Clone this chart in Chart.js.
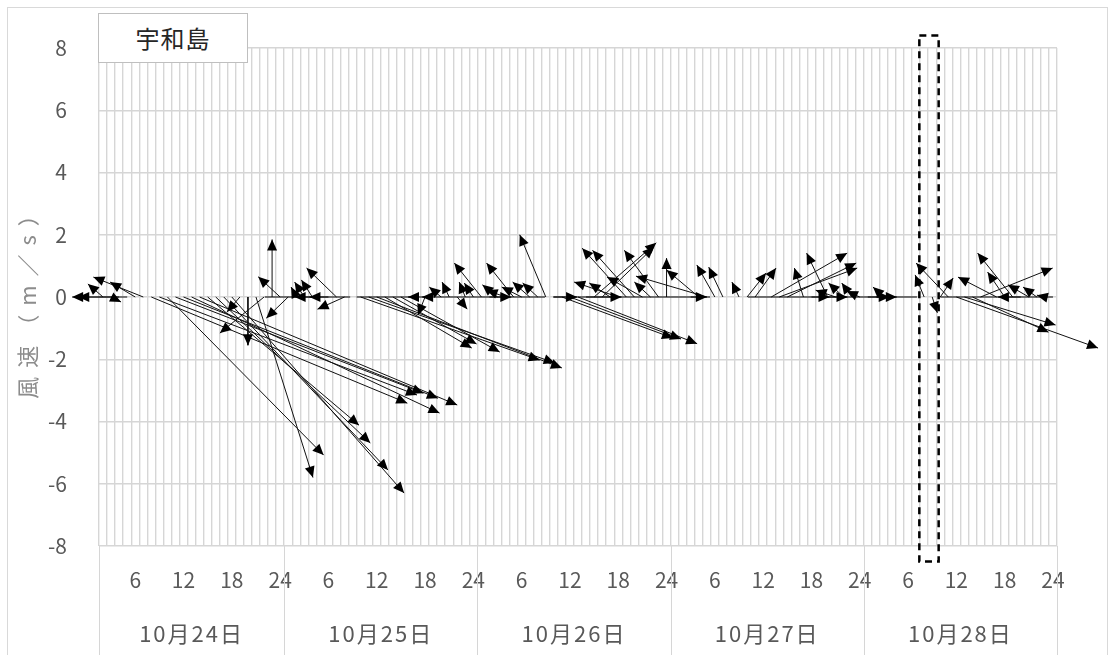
<!DOCTYPE html>
<html lang="ja">
<head>
<meta charset="utf-8">
<title>宇和島 風速</title>
<script src="https://cdn.jsdelivr.net/npm/chart.js@4.4.1/dist/chart.umd.min.js"></script>
<style>
  html, body { margin: 0; padding: 0; background: #fff; }
  #wrap { position: relative; width: 1110px; height: 655px; overflow: hidden; }
  #frame { position: absolute; left: 7px; top: 7px; width: 1101px; height: 660px; border: 1px solid #d9d9d9; box-sizing: border-box; }
  #station { position: absolute; left: 98px; top: 13px; width: 150px; height: 50px; border: 1px solid #bfbfbf; background: #fff; box-sizing: border-box;
             font: 24px "Noto Sans CJK JP", sans-serif; color: #262626; text-align: center; line-height: 47px; letter-spacing: 1px; }
  canvas { position: absolute; left: 0; top: 0; }
</style>
</head>
<body>
<div id="wrap">
  <div id="frame"></div>
  <canvas id="windChart" width="1110" height="655"></canvas>
  <div id="station">宇和島</div>
</div>
<script>
// days on the category axis (first day starts at 2時)
const days = ['10月24日', '10月25日', '10月26日', '10月27日', '10月28日'];
const hoursPerDay = [23, 24, 24, 24, 24];
const firstHour = [2, 1, 1, 1, 1];
const hourTicks = [6, 12, 18, 24];
const yTicks = [-8, -6, -4, -2, 0, 2, 4, 6, 8];

// hourly wind components (m/s), null = calm
const windU = [
  -0.47, 0.31, -1.46, -1.52, -0.78, -1.55, 7.95, 8.0, 4.85, 7.7, 7.9, 7.7, 8.0, 4.7, 4.8, 5.1, 5.35, -0.4, 0, 1.77, -1.37, 0, -0.68,
  -0.68, -0.16, -0.3, -0.34, -0.34, -1.05, -0.93, -0.84, null, 5.56, 5.78, 5.75, 2.7, 2.6, 3.07, null, -0.28, -0.22, -0.34, -0.37, -0.22, 0.31, -0.19, -0.28,
  -0.84, 0.68, -0.47, -0.59, -0.84, -0.62, -0.53, -0.47, -0.81, 0.72, 3.45, 3.45, 3.7, 1.1, 1.93, 1.6, -0.65, -1.37, -1.37, -1.3, -1.1, -0.5, -1.06, 0,
  null, null, 0.5, -1.0, -2.2, -0.56, -0.44, null, -0.22, 0.59, 0.65, null, 2.36, 2.42, 2.14, null, -0.28, 0.56, 0.87, -0.65, -0.62, -0.47, -0.31, -0.4,
  0.68, 0.65, -0.34, null, null, null, null, -0.28, 0.16, 0.4, -1.0, 4.4, 2.83, 2.36, 2.24, null, -1.2, -0.53, -1.09, -0.71, -0.65, -0.43, -0.25, null
];
const windV = [
  0.42, -0.16, 0, 0, 0.48, 0.64, -3.41, -3.15, -5.08, -3.09, -3.25, -3.73, -3.47, -4.12, -4.69, -5.56, -6.3, -0.48, -1.55, -5.8, -1.16, 1.85, 0.65,
  -0.68, 0.32, 0.48, 0.55, 0, 0, 0.93, -0.39, null, -2.03, -2.12, -2.28, -1.64, -1.51, -1.77, null, 0, -0.58, 0, 0.32, 0.48, -0.39, 0.48, 0.45,
  1.09, 0, 0.39, 0.22, 1.09, 0.32, 0.48, 0.45, 2.0, 0, -1.32, -1.35, -1.5, 0, 1.74, 1.6, 0.45, 0.48, 1.57, 1.5, 0.64, 0.48, 1.5, 1.25,
  null, null, 0, 0.87, 0.67, 1.03, 0.96, null, 0.48, 0.77, 0.93, null, 1.41, 0.93, 1.09, null, 0.93, 0, 0, 1.41, 0.22, 0.45, 0.45, 0.19,
  0, 0, 0.32, null, null, null, null, 0.71, -0.51, 0.61, 1.09, -1.64, -0.9, -1.13, 0.93, null, 0.64, 0.8, 1.41, 0, 0.39, 0.32, 0.06, null
];

// stretches of the zero line (hour index)
const calmSpans = [[20.6, 31.2], [32, 55.4], [56.4, 75.9], [80.6, 101.6], [104.5, 118.5]];
// dashed highlight around 28日 9時
const focusHours = [101.9, 104.3];
const focusRange = [8.4, -8.5];

const hoursPerMs = 4; // x-stretch of the wind sticks
const nCat = hoursPerDay.reduce((a, b) => a + b, 0);
const dayStart = [];
hoursPerDay.reduce((acc, n) => { dayStart.push(acc); return acc + n; }, 0);

const hourLabel = [];
hoursPerDay.forEach((n, d) => { for (let k = 0; k < n; k++) hourLabel.push(firstHour[d] + k); });

const FONT = '"Noto Sans CJK JP", sans-serif';
const GRID = '#d6d6d6';
const datasets = [];

// zero line
const calmData = [];
calmSpans.forEach(s => { calmData.push({x: s[0], y: 0}, {x: s[1], y: 0}, {x: s[1], y: null}); });
datasets.push({ data: calmData, borderColor: '#000', borderWidth: 1, pointRadius: 0, clip: false, spanGaps: false });

// one stick per hour
windU.forEach((u, i) => {
  if (u === null) return;
  const x0 = i + 0.5;
  datasets.push({
    data: [{x: x0, y: 0}, {x: x0 + u * hoursPerMs, y: windV[i]}],
    borderColor: '#111', borderWidth: 1, pointRadius: 0, clip: false, arrow: true
  });
});

// highlight box
datasets.push({
  data: [
    {x: focusHours[0], y: focusRange[0]}, {x: focusHours[1], y: focusRange[0]},
    {x: focusHours[1], y: focusRange[1]}, {x: focusHours[0], y: focusRange[1]}, {x: focusHours[0], y: focusRange[0]}
  ],
  borderColor: '#000', borderWidth: 2.5, borderDash: [7, 5], pointRadius: 0, clip: false
});

const arrowHeads = {
  id: 'arrowHeads',
  afterDatasetsDraw(chart) {
    const ctx = chart.ctx;
    ctx.save();
    ctx.fillStyle = '#000';
    chart.data.datasets.forEach((ds, i) => {
      if (!ds.arrow) return;
      const pts = chart.getDatasetMeta(i).data;
      const a = pts[0], b = pts[1];
      const dx = b.x - a.x, dy = b.y - a.y;
      if (Math.hypot(dx, dy) < 1) return;
      const ang = Math.atan2(dy, dx);
      const len = 11, half = 5;
      ctx.beginPath();
      ctx.moveTo(b.x, b.y);
      ctx.lineTo(b.x - len * Math.cos(ang) + half * Math.sin(ang), b.y - len * Math.sin(ang) - half * Math.cos(ang));
      ctx.lineTo(b.x - len * Math.cos(ang) - half * Math.sin(ang), b.y - len * Math.sin(ang) + half * Math.cos(ang));
      ctx.closePath();
      ctx.fill();
    });
    ctx.restore();
  }
};

// separators between day groups under the plot, plus wider letter spacing for some texts
const daySeparators = {
  id: 'daySeparators',
  beforeDraw(chart) {
    [['y', 'drawTitle', '9px'], ['xDay', 'drawLabels', '2px']].forEach(([id, fn, sp]) => {
      const s = chart.scales[id];
      if (s['_sp' + fn]) return;
      const orig = s[fn].bind(s);
      s[fn] = function (...args) {
        chart.ctx.save();
        chart.ctx.letterSpacing = sp;
        orig(...args);
        chart.ctx.restore();
      };
      s['_sp' + fn] = true;
    });
  },
  afterDraw(chart) {
    const ctx = chart.ctx, xs = chart.scales.x;
    ctx.save();
    ctx.strokeStyle = GRID;
    ctx.lineWidth = 1;
    dayStart.concat([nCat]).forEach(v => {
      const px = Math.round(xs.getPixelForValue(v)) + 0.5;
      ctx.beginPath();
      ctx.moveTo(px, chart.chartArea.bottom);
      ctx.lineTo(px, chart.height);
      ctx.stroke();
    });
    ctx.restore();
  }
};

new Chart(document.getElementById('windChart'), {
  type: 'line',
  data: { datasets },
  plugins: [arrowHeads, daySeparators],
  options: {
    responsive: false,
    animation: false,
    events: [],
    layout: { padding: { top: 48, right: 53, left: 0, bottom: 0 } },
    plugins: { legend: { display: false }, tooltip: { enabled: false } },
    scales: {
      x: {
        type: 'linear', min: 0, max: nCat, position: 'bottom', weight: 0,
        afterBuildTicks: s => { s.ticks = Array.from({length: nCat + 1}, (_, i) => ({value: i})); },
        ticks: { display: false, autoSkip: false },
        grid: { color: GRID, lineWidth: 1.4, drawTicks: false },
        border: { display: false },
        afterFit: s => { s.height = 0; }
      },
      xHour: {
        type: 'linear', min: 0, max: nCat, position: 'bottom', weight: 1,
        afterBuildTicks: s => {
          s.ticks = hourLabel.map((h, i) => ({h, i})).filter(o => hourTicks.includes(o.h)).map(o => ({value: o.i + 0.5}));
        },
        ticks: {
          autoSkip: false, maxRotation: 0, padding: 21, color: '#595959', font: { family: FONT, size: 21 },
          callback: v => String(hourLabel[Math.floor(v)])
        },
        grid: { display: false, drawTicks: false },
        border: { display: false },
        afterFit: s => { s.height = 55; }
      },
      xDay: {
        type: 'linear', min: 0, max: nCat, position: 'bottom', weight: 2,
        afterBuildTicks: s => { s.ticks = days.map((d, k) => ({value: dayStart[k] + hoursPerDay[k] / 2})); },
        ticks: {
          autoSkip: false, maxRotation: 0, padding: 19, color: '#595959', font: { family: FONT, size: 22 },
          callback: (v, idx) => days[idx]
        },
        grid: { display: false, drawTicks: false },
        border: { display: false },
        afterFit: s => { s.height = 54; }
      },
      y: {
        type: 'linear', min: -8, max: 8, position: 'left',
        afterBuildTicks: s => { s.ticks = yTicks.map(v => ({value: v})); },
        ticks: { padding: 32, color: '#595959', font: { family: FONT, size: 21 } },
        grid: { color: GRID, lineWidth: 1.4, drawTicks: false },
        border: { display: false },
        title: { display: true, text: '風速（m／s）', color: '#8c8c8c', font: { family: FONT, size: 22 }, padding: { top: 14, bottom: 0 } },
        afterFit: s => { s.width = 99; }
      }
    }
  }
});
</script>
</body>
</html>
